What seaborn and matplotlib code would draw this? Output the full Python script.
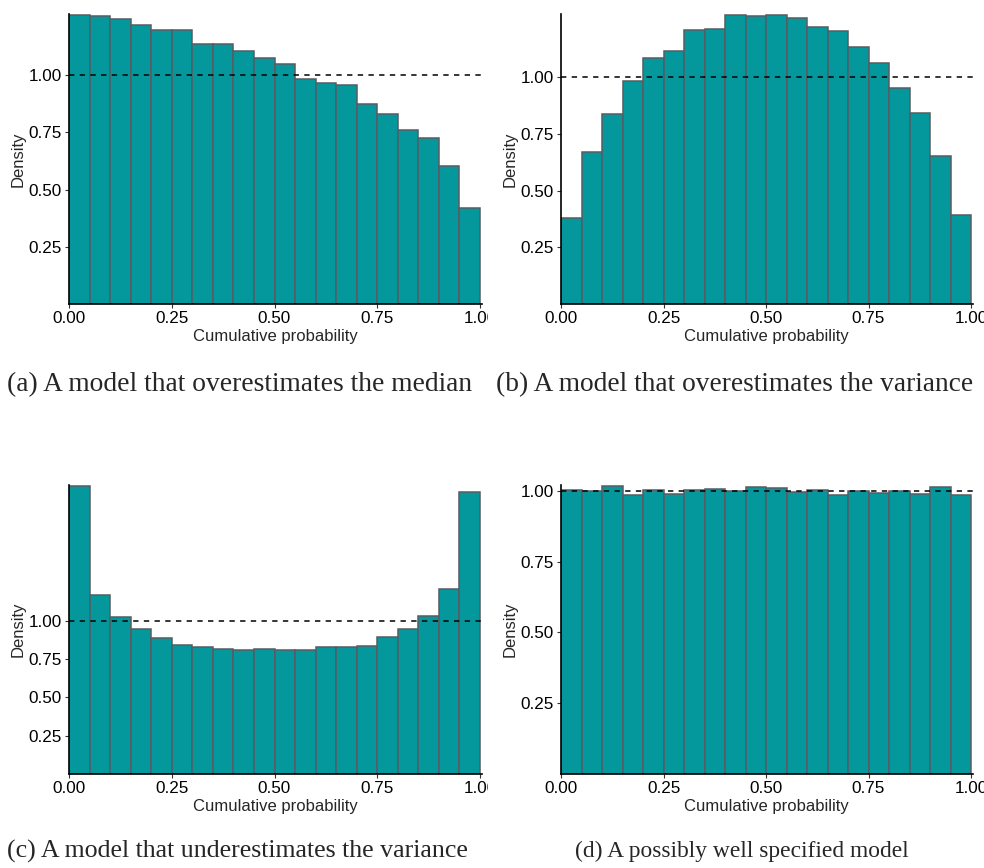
import numpy as np
import pandas as pd
import matplotlib
matplotlib.use("Agg")
import matplotlib.pyplot as plt
import seaborn as sns
from matplotlib.patches import Rectangle

# ---- data: density of each of the 20 PIT bins (bin width 0.05) ----
bin_edges = [i / 20 for i in range(21)]
bin_centers = [(bin_edges[i] + bin_edges[i + 1]) / 2 for i in range(20)]

density_a = [1.265, 1.258, 1.247, 1.218, 1.199, 1.199, 1.138, 1.138, 1.107, 1.077,
             1.051, 0.983, 0.968, 0.957, 0.874, 0.830, 0.759, 0.727, 0.601, 0.418]
density_b = [0.377, 0.670, 0.836, 0.982, 1.085, 1.116, 1.208, 1.211, 1.272, 1.268,
             1.275, 1.262, 1.220, 1.204, 1.130, 1.060, 0.953, 0.840, 0.654, 0.391]
density_c = [1.880, 1.169, 1.022, 0.946, 0.888, 0.842, 0.831, 0.812, 0.808, 0.812,
             0.808, 0.808, 0.825, 0.825, 0.834, 0.896, 0.942, 1.032, 1.203, 1.836]
density_d = [1.004, 1.000, 1.019, 0.986, 1.005, 0.990, 1.004, 1.008, 1.000, 1.015,
             1.009, 0.996, 1.005, 0.986, 1.000, 0.993, 1.001, 0.990, 1.015, 0.985]

captions = ["(a) A model that overestimates the median",
            "(b) A model that overestimates the variance",
            "(c) A model that underestimates the variance",
            "(d) A possibly well specified model"]
x_ticks = [0.0, 0.25, 0.5, 0.75, 1.0]
x_tick_labels = ["0.00", "0.25", "0.50", "0.75", "1.00"]
y_ticks = [0.25, 0.5, 0.75, 1.0]
y_tick_labels = ["0.25", "0.50", "0.75", "1.00"]
reference_density = 1.0

# ---- figure ----
sns.set_style("ticks")
plt.rcParams["font.family"] = ["Liberation Sans", "DejaVu Sans"]

W, H = 984, 868
fig = plt.figure(figsize=(W / 100, H / 100), dpi=100)

FILL = "#04979b"
EDGE = "#565d63"

# axes boxes in pixels: (left, top, right(x=1), bottom)
boxes = [(69, 14, 480, 304), (561, 14, 971, 304),
         (69, 485, 480, 774), (561, 485, 971, 774)]
all_dens = [density_a, density_b, density_c, density_d]
x_right = 1.004

for box, dens in zip(boxes, all_dens):
    l, t, r, b = box
    width_px = (r - l) * x_right
    ax = fig.add_axes([l / W, 1 - b / H, width_px / W, (b - t) / H])
    df = pd.DataFrame({"u": bin_centers, "d": dens})
    sns.histplot(data=df, x="u", weights="d", bins=bin_edges, stat="count",
                 color=FILL, alpha=1.0, edgecolor=EDGE, linewidth=1.1, ax=ax)
    ax.set_xlim(0, x_right)
    ax.set_ylim(0, max(dens) * 1.002)
    ax.plot([0, 1.013], [reference_density, reference_density], ls=(0, (3.5, 3.5)),
            color="black", lw=1.1, clip_on=False, zorder=5)
    ax.set_xticks(x_ticks)
    ax.set_xticklabels(x_tick_labels)
    ax.set_yticks(y_ticks)
    ax.set_yticklabels(y_tick_labels)
    ax.tick_params(axis="both", labelsize=12.3, length=3, width=0.8,
                   color="#333333", labelcolor="black", pad=2)
    ax.set_xlabel("Cumulative probability", fontsize=12, labelpad=2.5)
    ax.set_ylabel("Density", fontsize=12, labelpad=2)
    for s in ["top", "right"]:
        ax.spines[s].set_visible(False)
    for s in ["left", "bottom"]:
        ax.spines[s].set_linewidth(1.2)
        ax.spines[s].set_color("black")

# captions
cap_pos = [(239.5, 385), (734.5, 385), (237, 851), (741.5, 851)]
cap_size = [19.8, 19.7, 18.6, 16.9]
for (cx, cy), txt, fs in zip(cap_pos, captions, cap_size):
    fig.text(cx / W, 1 - cy / H, txt, ha="center", va="center",
             fontsize=fs, family=["Liberation Serif", "DejaVu Serif"])

# the original panels were cropped: the last x tick label of the left panels is cut off
for y0 in (306, 777):
    fig.patches.append(Rectangle((488 / W, 1 - (y0 + 20) / H), 10 / W, 20 / H,
                                 transform=fig.transFigure, facecolor="white",
                                 edgecolor="none", zorder=10))

fig.savefig("out.png", dpi=100, facecolor="white")
